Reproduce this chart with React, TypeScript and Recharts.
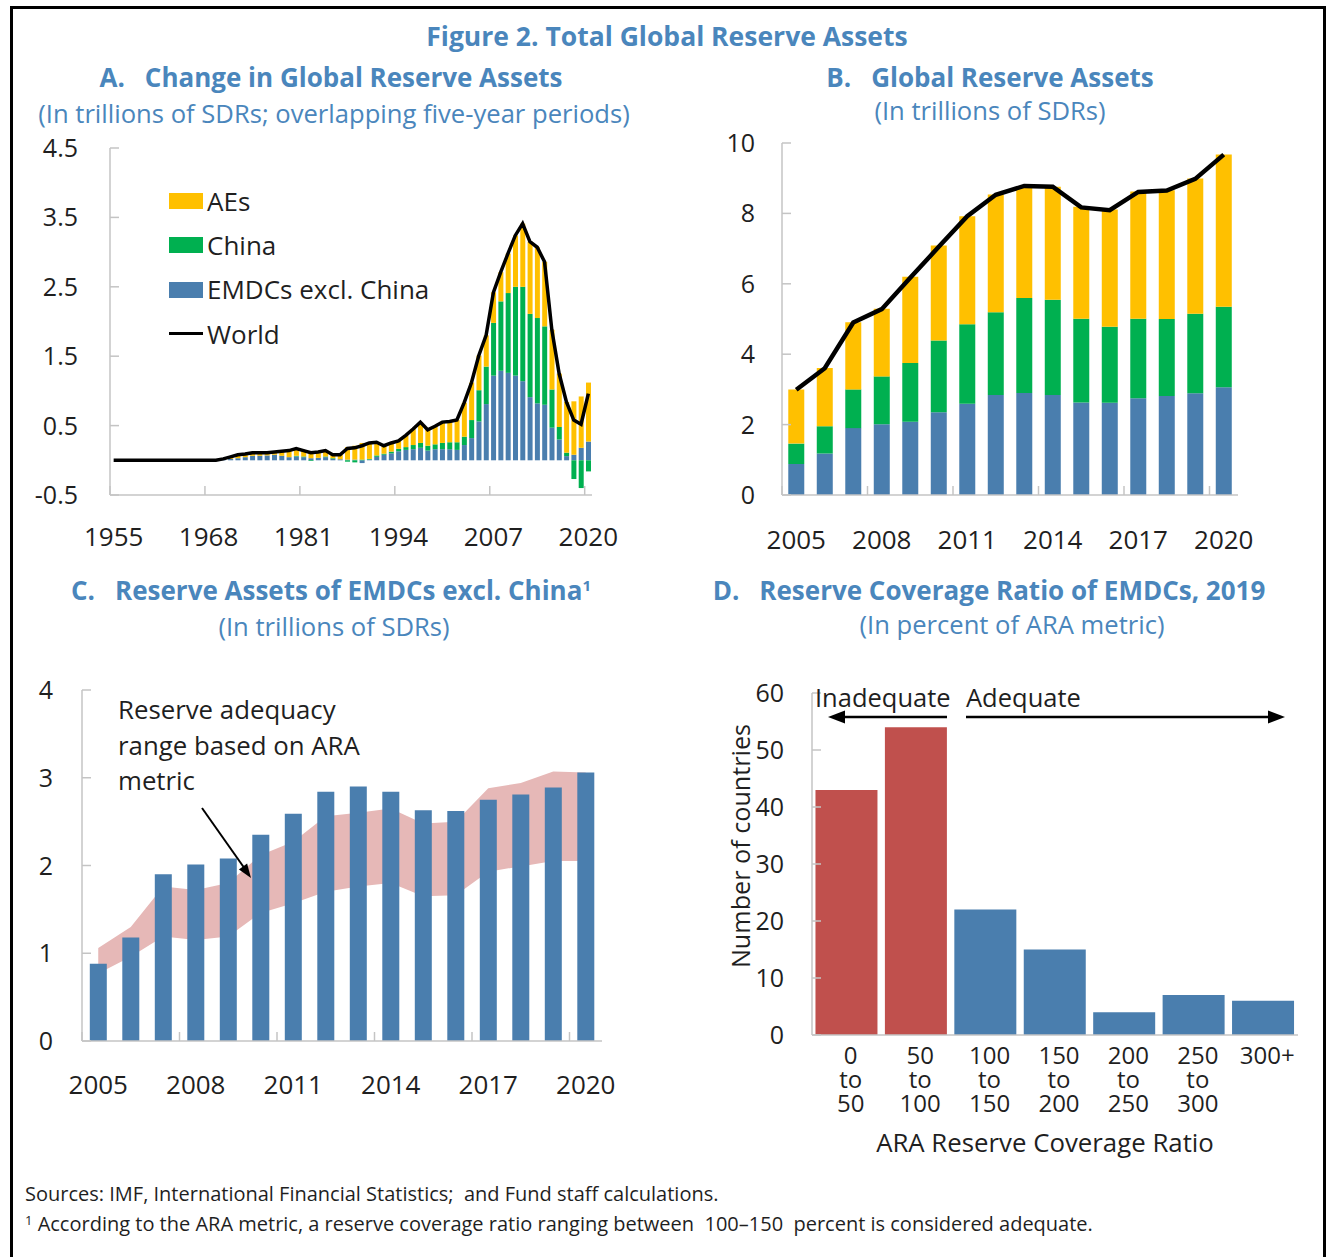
import React from 'react';
import { ComposedChart, BarChart, Bar, Line, Area, XAxis, YAxis, Cell } from 'recharts';

const FONT = '"Open Sans", "Noto Sans", "DejaVu Sans", sans-serif';
const HEAD = '#4A86BC';
const INK = '#1f1f1f';
const AXIS = '#c4c4c4';
const AES_C = '#FFC000';
const CHINA_C = '#00B050';
const EMDC_C = '#4A7EAE';
const RED_C = '#C0504D';
const BAND_C = '#E6B8B7';

// Panel A: change in reserves, overlapping five-year periods
const yearsA = [
  1955, 1956, 1957, 1958, 1959, 1960, 1961, 1962, 1963, 1964, 1965, 1966, 1967, 1968, 1969,
  1970, 1971, 1972, 1973, 1974, 1975, 1976, 1977, 1978, 1979,
  1980, 1981, 1982, 1983, 1984, 1985, 1986, 1987, 1988, 1989,
  1990, 1991, 1992, 1993, 1994, 1995, 1996, 1997, 1998, 1999,
  2000, 2001, 2002, 2003, 2004, 2005, 2006, 2007, 2008, 2009,
  2010, 2011, 2012, 2013, 2014, 2015, 2016, 2017, 2018, 2019,
  2020,
];
const emdcA = [
  0, 0, 0, 0, 0, 0, 0, 0, 0, 0, 0, 0, 0, 0, 0,
  0.01, 0.02, 0.03, 0.045, 0.065, 0.065, 0.07, 0.08, 0.065, 0.045,
  0.055, 0.045, 0.03, 0.035, 0.045, 0.02, 0.015, 0.01, 0.01, -0.04,
  0.01, 0.05, 0.08, 0.1, 0.13, 0.15, 0.16, 0.18, 0.14, 0.16,
  0.16, 0.16, 0.15, 0.22, 0.32, 0.56, 0.81, 1.22, 1.29, 1.26,
  1.22, 1.14, 0.91, 0.82, 0.8, 0.47, 0.3, 0.06, 0.08, 0.18,
  0.27,
];
const chinaA = [
  0, 0, 0, 0, 0, 0, 0, 0, 0, 0, 0, 0, 0, 0, 0,
  0, 0, 0, 0, 0, 0, 0, 0, 0, 0,
  0.01, 0.01, -0.01, 0, 0.01, 0.01, 0, -0.02, -0.03, 0.01,
  0.01, 0.02, 0.015, 0.025, 0.035, 0.04, 0.06, 0.07, 0.07, 0.07,
  0.09, 0.1, 0.11, 0.12, 0.26, 0.45, 0.54, 0.76, 1.0, 1.15,
  1.28, 1.36, 1.2, 1.23, 1.13, 0.55, 0.18, 0.05, -0.27, -0.4,
  -0.16,
];
const aesA = [
  0, 0, 0, 0, 0, 0, 0, 0, 0, 0, 0, 0, 0, 0, 0,
  0.01, 0.03, 0.05, 0.045, 0.045, 0.045, 0.04, 0.04, 0.065, 0.095,
  0.105, 0.085, 0.09, 0.085, 0.085, 0.05, 0.065, 0.18, 0.2, 0.24,
  0.23, 0.19, 0.115, 0.125, 0.115, 0.17, 0.23, 0.3, 0.23, 0.26,
  0.3, 0.3, 0.32, 0.49, 0.54, 0.5, 0.45, 0.44, 0.42, 0.57,
  0.74, 0.91, 1.04, 1.02, 0.93, 0.86, 0.77, 0.73, 0.77, 0.74,
  0.85,
];
const worldA = [
  0, 0, 0, 0, 0, 0, 0, 0, 0, 0, 0, 0, 0, 0, 0,
  0.02, 0.05, 0.08, 0.09, 0.11, 0.11, 0.11, 0.12, 0.13, 0.14,
  0.17, 0.14, 0.11, 0.12, 0.14, 0.08, 0.08, 0.17, 0.18, 0.21,
  0.25, 0.26, 0.21, 0.25, 0.28, 0.36, 0.45, 0.55, 0.44, 0.49,
  0.55, 0.56, 0.58, 0.83, 1.12, 1.51, 1.8, 2.42, 2.71, 2.98,
  3.24, 3.41, 3.15, 3.07, 2.86, 1.88, 1.25, 0.84, 0.58, 0.52,
  0.96,
];

// Panels B and C: levels, 2005-2020
const yearsB = [2005, 2006, 2007, 2008, 2009, 2010, 2011, 2012, 2013, 2014, 2015, 2016, 2017, 2018, 2019, 2020];
const emdcLevel = [0.88, 1.18, 1.9, 2.01, 2.08, 2.35, 2.59, 2.84, 2.9, 2.84, 2.63, 2.62, 2.75, 2.81, 2.89, 3.06];
const chinaLevel = [0.58, 0.77, 1.1, 1.36, 1.67, 2.04, 2.26, 2.35, 2.7, 2.71, 2.38, 2.16, 2.26, 2.19, 2.26, 2.29];
const aesLevel = [1.54, 1.66, 1.91, 1.92, 2.45, 2.7, 3.07, 3.35, 3.17, 3.21, 3.18, 3.33, 3.61, 3.66, 3.84, 4.32];
const worldLevel = [2.99, 3.6, 4.9, 5.28, 6.17, 7.05, 7.92, 8.53, 8.78, 8.76, 8.17, 8.09, 8.61, 8.65, 8.98, 9.67];
const araLow = [0.77, 0.96, 1.19, 1.15, 1.19, 1.46, 1.57, 1.7, 1.76, 1.8, 1.65, 1.66, 1.93, 1.99, 2.05, 2.05];
const araHigh = [1.06, 1.3, 1.76, 1.72, 1.8, 2.12, 2.27, 2.56, 2.6, 2.65, 2.48, 2.5, 2.88, 2.94, 3.07, 3.06];

// Panel D: coverage ratio distribution, 2019
const coverageBins = ['0 to 50', '50 to 100', '100 to 150', '150 to 200', '200 to 250', '250 to 300', '300+'];
const countries = [43, 54, 22, 15, 4, 7, 6];
const inadequateBins = 2;

const dataA = yearsA.map((year, i) => ({ year, emdc: emdcA[i], china: chinaA[i], aes: aesA[i], world: worldA[i] }));
const dataB = yearsB.map((year, i) => ({
  year,
  emdc: emdcLevel[i],
  china: chinaLevel[i],
  aes: aesLevel[i],
  world: worldLevel[i],
}));
const dataC = yearsB.map((year, i) => ({ year, emdc: emdcLevel[i], ara: [araLow[i], araHigh[i]] }));
const dataD = coverageBins.map((bin, i) => ({ bin, count: countries[i] }));

const axisLine = { stroke: AXIS, strokeWidth: 1.5 };

// ticks drawn inside the plot, labels outside
const yTick = (gap: number) => (p: any) => (
  <g>
    <line x1={p.x} x2={p.x + 9} y1={p.y} y2={p.y} stroke={AXIS} strokeWidth={1.5} />
    <text x={p.x - gap} y={p.y + 9} textAnchor="end" fontSize={25} fontFamily={FONT} fill={INK}>
      {p.payload.value}
    </text>
  </g>
);

// tick mark between categories, label on the category
const xTick = (half: number, dy: number) => (p: any) => {
  const edge = p.x - half;
  return (
    <g>
      <line x1={edge} x2={edge} y1={p.y} y2={p.y - 9} stroke={AXIS} strokeWidth={1.5} />
      <text x={p.x} y={p.y + dy + 9} textAnchor="middle" fontSize={26} fontFamily={FONT} fill={INK}>
        {p.payload.value}
      </text>
    </g>
  );
};

// stacked "0 / to / 50" labels as one wrapped block
const dTick = (p: any) => {
  const parts = String(p.payload.value).split(' ');
  return (
    <foreignObject x={p.x + 4 - 40} y={p.y + 8} width={80} height={80}>
      <div
        style={{
          width: 80,
          textAlign: 'center',
          fontSize: 24,
          lineHeight: '24px',
          fontFamily: FONT,
          color: INK,
        }}
      >
        {parts.map((t, i) => (
          <React.Fragment key={i}>
            {i > 0 && <br />}
            {t}
          </React.Fragment>
        ))}
      </div>
    </foreignObject>
  );
};

function Txt({ x, y, w = 900, align = 'center', size = 23, bold = false, color = INK, children }: any) {
  const h = Math.round(size * 1.4);
  const left = align === 'center' ? x - w / 2 : align === 'right' ? x - w : x;
  return (
    <div
      style={{
        position: 'absolute',
        left,
        top: y - h / 2,
        width: w,
        height: h,
        lineHeight: `${h}px`,
        textAlign: align,
        fontSize: size,
        fontWeight: bold ? 700 : 400,
        color,
        fontFamily: FONT,
        whiteSpace: 'pre',
      }}
    >
      {children}
    </div>
  );
}

const Box = ({ left, top, w, h, color }: any) => (
  <div style={{ position: 'absolute', left, top, width: w, height: h, background: color }} />
);

export default function App() {
  return (
    <div style={{ position: 'absolute', left: 0, top: 0, width: 1330, height: 1257, overflow: 'hidden', background: '#fff' }}>
      <div
        style={{
          position: 'absolute',
          left: 10,
          top: 6,
          width: 1316,
          height: 1300,
          border: '3.5px solid #000',
          boxSizing: 'border-box',
        }}
      />

      {/* titles */}
      <Txt x={667} y={36} size={26.5} bold color={HEAD}>Figure 2. Total Global Reserve Assets</Txt>
      <Txt x={331} y={77} size={26} bold color={HEAD}>
        <span style={{ marginRight: 20 }}>A.</span>Change in Global Reserve Assets
      </Txt>
      <Txt x={334} y={114} size={25.6} color={HEAD}>(In trillions of SDRs; overlapping five-year periods)</Txt>
      <Txt x={990} y={77} size={26} bold color={HEAD}>
        <span style={{ marginRight: 20 }}>B.</span>Global Reserve Assets
      </Txt>
      <Txt x={990} y={111} size={25.6} color={HEAD}>(In trillions of SDRs)</Txt>
      <Txt x={331} y={590} size={26} bold color={HEAD}>
        <span style={{ marginRight: 20 }}>C.</span>Reserve Assets of EMDCs excl. China
        <span style={{ fontSize: 15, verticalAlign: 'top', lineHeight: '26px' }}>1</span>
      </Txt>
      <Txt x={334} y={627} size={25.6} color={HEAD}>(In trillions of SDRs)</Txt>
      <Txt x={989} y={590} size={26} bold color={HEAD}>
        <span style={{ marginRight: 20 }}>D.</span>Reserve Coverage Ratio of EMDCs, 2019
      </Txt>
      <Txt x={1012} y={625} size={25.6} color={HEAD}>(In percent of ARA metric)</Txt>

      {/* Panel A */}
      <div style={{ position: 'absolute', left: 0, top: 130 }}>
        <ComposedChart
          width={620}
          height={430}
          data={dataA}
          margin={{ top: 18, right: 28, bottom: 0, left: 0 }}
          stackOffset="sign"
          barCategoryGap="18%"
        >
          <XAxis
            dataKey="year"
            interval={12}
            tickSize={0}
            tickMargin={0}
            tickLine={false}
            axisLine={axisLine}
            tick={xTick(3.65, 42)}
            height={65}
          />
          <YAxis
            type="number"
            domain={[-0.5, 4.5]}
            ticks={[-0.5, 0.5, 1.5, 2.5, 3.5, 4.5]}
            interval={0}
            width={110}
            tickSize={0}
            tickMargin={0}
            tickLine={false}
            axisLine={axisLine}
            tick={yTick(32)}
          />
          <Bar dataKey="emdc" stackId="a" fill={EMDC_C} isAnimationActive={false} />
          <Bar dataKey="china" stackId="a" fill={CHINA_C} isAnimationActive={false} />
          <Bar dataKey="aes" stackId="a" fill={AES_C} isAnimationActive={false} />
          <Line dataKey="world" type="linear" stroke="#000" strokeWidth={3.5} dot={false} isAnimationActive={false} />
        </ComposedChart>
      </div>
      <Box left={169} top={193} w={34} h={16} color={AES_C} />
      <Box left={169} top={237} w={34} h={16} color={CHINA_C} />
      <Box left={169} top={282} w={34} h={16} color={EMDC_C} />
      <Box left={169} top={332} w={34} h={3} color="#000" />
      <Txt x={207} y={201} w={300} align="left" size={26}>AEs</Txt>
      <Txt x={207} y={245} w={300} align="left" size={26}>China</Txt>
      <Txt x={207} y={289} w={300} align="left" size={26}>EMDCs excl. China</Txt>
      <Txt x={207} y={334} w={300} align="left" size={26}>World</Txt>

      {/* Panel B */}
      <div style={{ position: 'absolute', left: 700, top: 125 }}>
        <ComposedChart width={560} height={440} data={dataB} margin={{ top: 18, right: 22, bottom: 0, left: 0 }} barCategoryGap="22%">
          <XAxis
            dataKey="year"
            interval={2}
            tickSize={0}
            tickMargin={0}
            tickLine={false}
            axisLine={axisLine}
            tick={xTick(14.25, 45)}
            height={70}
          />
          <YAxis
            type="number"
            domain={[0, 10]}
            ticks={[0, 2, 4, 6, 8, 10]}
            interval={0}
            width={82}
            tickSize={0}
            tickMargin={0}
            tickLine={false}
            axisLine={axisLine}
            tick={yTick(27)}
          />
          <Bar dataKey="emdc" stackId="b" fill={EMDC_C} isAnimationActive={false} />
          <Bar dataKey="china" stackId="b" fill={CHINA_C} isAnimationActive={false} />
          <Bar dataKey="aes" stackId="b" fill={AES_C} isAnimationActive={false} />
          <Line dataKey="world" type="linear" stroke="#000" strokeWidth={4.5} dot={false} isAnimationActive={false} />
        </ComposedChart>
      </div>

      {/* Panel C */}
      <div style={{ position: 'absolute', left: 0, top: 670 }}>
        <ComposedChart width={620} height={460} data={dataC} margin={{ top: 20, right: 18, bottom: 0, left: 0 }} barCategoryGap="24%">
          <XAxis
            dataKey="year"
            interval={2}
            tickSize={0}
            tickMargin={0}
            tickLine={false}
            axisLine={axisLine}
            tick={xTick(16.25, 44)}
            height={89}
          />
          <YAxis
            type="number"
            domain={[0, 4]}
            ticks={[0, 1, 2, 3, 4]}
            interval={0}
            width={82}
            tickSize={0}
            tickMargin={0}
            tickLine={false}
            axisLine={axisLine}
            tick={yTick(29)}
          />
          <Area dataKey="ara" type="linear" stroke="none" fill={BAND_C} fillOpacity={1} isAnimationActive={false} />
          <Bar dataKey="emdc" fill={EMDC_C} isAnimationActive={false} />
        </ComposedChart>
      </div>
      <Txt x={118} y={709} w={400} align="left" size={25.8}>Reserve adequacy</Txt>
      <Txt x={118} y={745} w={400} align="left" size={25.8}>range based on ARA</Txt>
      <Txt x={118} y={780} w={400} align="left" size={25.8}>metric</Txt>

      {/* Panel D */}
      <div style={{ position: 'absolute', left: 700, top: 670 }}>
        <BarChart width={620} height={480} data={dataD} margin={{ top: 23, right: 22, bottom: 0, left: 0 }} barCategoryGap="5%">
          <XAxis
            dataKey="bin"
            interval={0}
            tickSize={0}
            tickMargin={0}
            tickLine={false}
            axisLine={axisLine}
            tick={dTick}
            height={115}
          />
          <YAxis
            type="number"
            domain={[0, 60]}
            ticks={[0, 10, 20, 30, 40, 50, 60]}
            interval={0}
            width={112}
            tickSize={0}
            tickMargin={0}
            tickLine={false}
            axisLine={axisLine}
            tick={yTick(28)}
          />
          <Bar dataKey="count" isAnimationActive={false}>
            {dataD.map((d, i) => (
              <Cell key={d.bin} fill={i < inadequateBins ? RED_C : EMDC_C} />
            ))}
          </Bar>
        </BarChart>
      </div>
      <Txt x={815} y={697} w={300} align="left" size={25.5}>Inadequate</Txt>
      <Txt x={966} y={697} w={300} align="left" size={25.5}>Adequate</Txt>
      <div
        style={{
          position: 'absolute',
          left: 740 - 150,
          top: 846 - 18,
          width: 300,
          height: 36,
          lineHeight: '36px',
          textAlign: 'center',
          fontSize: 25.2,
          fontFamily: FONT,
          color: INK,
          transform: 'rotate(-90deg)',
        }}
      >
        Number of countries
      </div>
      <Txt x={1045} y={1142} size={25.8}>ARA Reserve Coverage Ratio</Txt>

      {/* annotation arrows */}
      <svg width={1330} height={1257} style={{ position: 'absolute', left: 0, top: 0, pointerEvents: 'none' }}>
        <line x1={202} y1={808} x2={245} y2={869} stroke="#000" strokeWidth={2} />
        <polygon points="251,878 238.9,869.4 247.1,863.6" fill="#000" />
        <line x1={947} y1={717} x2={842} y2={717} stroke="#000" strokeWidth={2.5} />
        <polygon points="828,717 845,710.5 845,723.5" fill="#000" />
        <line x1={966} y1={717} x2={1270} y2={717} stroke="#000" strokeWidth={2.5} />
        <polygon points="1285,717 1268,710.5 1268,723.5" fill="#000" />
      </svg>

      {/* notes */}
      <Txt x={25} y={1194} w={1200} align="left" size={20}>
        Sources: IMF, International Financial Statistics;  and Fund staff calculations.
      </Txt>
      <Txt x={25} y={1224} w={1280} align="left" size={20}>
        <span style={{ fontSize: 13, verticalAlign: 'top', lineHeight: '20px' }}>1</span> According to the ARA metric, a reserve
        coverage ratio ranging between  100–150  percent is considered adequate.
      </Txt>
    </div>
  );
}
